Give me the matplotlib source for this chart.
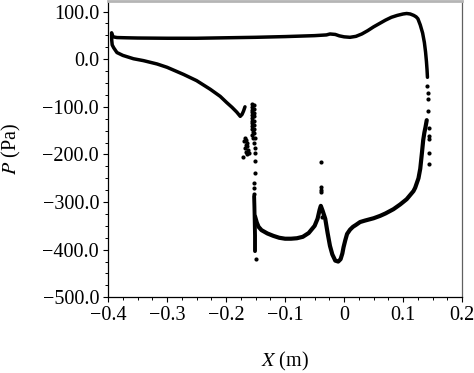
import matplotlib
matplotlib.use("Agg")
import matplotlib.pyplot as plt
from matplotlib.ticker import MultipleLocator, FixedLocator, FixedFormatter

plt.rcParams['font.family'] = ['Liberation Serif', 'DejaVu Serif']
plt.rcParams['mathtext.fontset'] = 'stix'

# Upper surface: leading edge -> trailing edge (continuous dense points)
upper_x = [-0.3940, -0.3915, -0.385, -0.37, -0.35, -0.30, -0.25, -0.20, -0.15, -0.10, -0.05,
           -0.03, -0.024, -0.015, -0.008, 0.0, 0.01, 0.02, 0.03, 0.04, 0.05, 0.06, 0.07,
           0.08, 0.09, 0.10, 0.106, 0.112, 0.118, 0.122, 0.125, 0.129, 0.133, 0.136,
           0.138, 0.1395, 0.1405, 0.1412]
upper_y = [55, 47, 45.5, 45, 44.5, 44, 44, 45, 46, 47.5, 49.5,
           51, 53, 52, 49, 47, 46, 48, 53, 60, 68, 75, 82,
           88, 92, 95, 96, 95, 92, 89, 85, 72, 55, 35,
           15, -5, -22, -38]

# Lower surface front part: leading edge -> kink
lower_x = [-0.3940, -0.3938, -0.3930, -0.3905, -0.385, -0.375, -0.357, -0.34, -0.317, -0.30,
           -0.272, -0.25, -0.227, -0.21, -0.199, -0.19, -0.182, -0.176, -0.173, -0.1705, -0.168]
lower_y = [55, 40, 30, 24, 14, 8, 1, -3, -10, -17,
           -32, -45, -63, -78, -91, -101, -111, -120, -116, -109, -100]

# Dense column of points near x = -0.15
colA_x = [-0.1565, -0.1560, -0.1565, -0.1555, -0.1560, -0.1565, -0.1555, -0.1560, -0.1555,
          -0.1560, -0.1550, -0.1555, -0.1545]
colA_y = [-95, -100, -106, -111, -117, -123, -129, -135, -141, -147, -153, -159, -165]
colB_x = [-0.1525, -0.1520, -0.1525, -0.1520, -0.1520, -0.1525, -0.1520, -0.1520, -0.1515,
          -0.1520, -0.1515, -0.1515, -0.1510, -0.1505, -0.1520, -0.1530, -0.1520]
colB_y = [-97, -104, -112, -120, -129, -138, -147, -156, -166, -176, -186, -197,
          -214, -238, -259, -270, -284]

# Scattered cluster left of the column
clus_x = [-0.168, -0.166, -0.170, -0.165, -0.167, -0.164, -0.168, -0.163, -0.166, -0.162,
          -0.165, -0.172]
clus_y = [-165, -170, -172, -176, -180, -183, -186, -190, -194, -197, -200, -206]

# Dense lower column segment
colC_x = [-0.1525, -0.1520, -0.1515, -0.1510, -0.1510]
colC_y = [-288, -310, -340, -370, -403]
colC_end_x = [-0.1490]
colC_end_y = [-419]

# Lower surface rear part: column -> trailing edge
rear_x = [-0.1510, -0.148, -0.145, -0.14, -0.13, -0.12, -0.11, -0.10, -0.09, -0.08, -0.07,
          -0.06, -0.05, -0.045, -0.0415, -0.0395, -0.0365, -0.032, -0.028, -0.024, -0.020,
          -0.015, -0.010, -0.006, -0.003, -0.001, 0.002, 0.005, 0.010, 0.015, 0.020, 0.027,
          0.035, 0.044, 0.050, 0.061, 0.070, 0.0836, 0.095, 0.106, 0.1175, 0.1204, 0.126,
          0.129, 0.132, 0.134, 0.136, 0.138, 0.140]
rear_y = [-330, -343, -352, -359, -366, -371, -375, -377, -377, -376, -373,
          -365, -350, -335, -316, -308, -318, -335, -365, -392, -410,
          -423, -425, -420, -408, -395, -380, -367, -358, -352, -348, -342,
          -339, -336, -334, -329, -324, -315, -305, -294, -277, -270, -250,
          -230, -195, -170, -154, -142, -128]

# Isolated points near the spike and trailing edge
spike_x = [-0.0395, -0.0390, -0.0390, -0.0385, -0.0378]
spike_y = [-215, -269, -274, -279, -332]
te_x = [0.1412, 0.1415, 0.1415, 0.1415, 0.1430, 0.1430, 0.1430, 0.1435, 0.1435]
te_y = [-57, -70, -84, -109, -144, -161, -168, -196, -221]

x_ticks = [-0.4, -0.3, -0.2, -0.1, 0.0, 0.1, 0.2]
x_tick_labels = ['\u22120.4', '\u22120.3', '\u22120.2', '\u22120.1', '0', '0.1', '0.2']
y_ticks = [-500, -400, -300, -200, -100, 0, 100]
y_tick_labels = ['\u2212500.0', '\u2212400.0', '\u2212300.0', '\u2212200.0', '\u2212100.0', '0.0', '100.0']

fig = plt.figure(figsize=(4.74, 3.73), dpi=100)
ax = fig.add_axes([0.228, 0.203, 0.747, 0.794])

lw = 2.5
ms = 3.0
for xs, ys, w in [(upper_x, upper_y, lw), (lower_x, lower_y, lw), (rear_x, rear_y, 3.0),
                  (colC_x, colC_y, 2.8)]:
    ax.plot(xs, ys, color='black', lw=w, solid_capstyle='round', solid_joinstyle='round')

for xs, ys in [(colA_x, colA_y), (colB_x, colB_y), (clus_x, clus_y), (colC_end_x, colC_end_y),
               (spike_x, spike_y), (te_x, te_y)]:
    ax.plot(xs, ys, 'o', color='black', ms=ms, mew=0)

ax.set_xlim(-0.4, 0.2)
ax.set_ylim(-500, 122)
ax.xaxis.set_major_locator(FixedLocator(x_ticks))
ax.xaxis.set_major_formatter(FixedFormatter(x_tick_labels))
ax.yaxis.set_major_locator(FixedLocator(y_ticks))
ax.yaxis.set_major_formatter(FixedFormatter(y_tick_labels))
ax.xaxis.set_minor_locator(MultipleLocator(0.025))
ax.yaxis.set_minor_locator(MultipleLocator(25))

ax.tick_params(which='major', direction='out', length=3.5, width=0.8, labelsize=14.5,
               top=False, right=False, pad=3)
ax.tick_params(which='minor', direction='out', length=2, width=0.7, top=False, right=False)

for s in ['left', 'bottom']:
    ax.spines[s].set_color('black')
    ax.spines[s].set_linewidth(0.9)
ax.spines['top'].set_color('#b5b5b5')
ax.spines['top'].set_linewidth(2)
ax.spines['right'].set_color('#606060')
ax.spines['right'].set_linewidth(0.9)

ax.set_xlabel('$\\mathit{X}$ (m)', fontsize=14.5, labelpad=18)
ax.set_ylabel('$\\mathit{P}$ (Pa)', fontsize=14.5, labelpad=14)

fig.savefig('out.png', dpi=100)
